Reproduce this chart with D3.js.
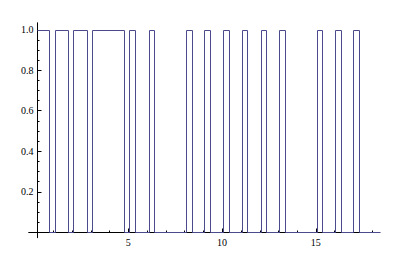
<!DOCTYPE html>
<html>
<head>
<meta charset="utf-8">
<script src="https://cdn.jsdelivr.net/npm/d3@7"></script>
<style>
  body { margin: 0; background: #fff; }
  svg { display: block; }
  .tick text { font-family: "Liberation Serif", serif; font-size: 10px; fill: #000; }
</style>
</head>
<body>
<svg width="400" height="270"></svg>
<script>
// intervals where the signal is 1 (otherwise 0)
var riseX = [0.12, 1.09, 2.07, 3.08, 5.06, 6.09, 8.06, 9.06, 10.04, 11.05, 12.06, 13.04, 15.05, 16.03, 17.0];
var fallX = [0.79, 1.80, 2.78, 4.77, 5.36, 6.39, 8.38, 9.36, 10.37, 11.35, 12.34, 13.34, 15.35, 16.33, 17.32];
var xMajor = [5, 10, 15];
var yMajor = [0.2, 0.4, 0.6, 0.8, 1.0];
var xStart = 0.12, xEnd = 18.4;

var svg = d3.select("svg");

var x = d3.scaleLinear().domain([0, 18]).range([34.5, 372]);
var y = d3.scaleLinear().domain([0, 1]).range([232, 29.5]);

// build step points from the intervals
var pts = [];
riseX.forEach(function (r, i) {
    if (i > 0) pts.push([r, 0]);
    pts.push([r, 1]);
    pts.push([fallX[i], 1]);
    pts.push([fallX[i], 0]);
});
pts.push([xEnd, 0]);

var line = d3.line()
    .x(function (d) { return Math.round(x(d[0])) + 0.5; })
    .y(function (d) { return Math.round(y(d[1])) + 0.5; });

// x axis
var gx = svg.append("g").attr("transform", "translate(0," + (Math.round(y(0)) + 0.5) + ")");
gx.append("line").attr("x1", x(-0.33)).attr("x2", x(18.43)).attr("stroke", "#000");
gx.selectAll(".minor").data(d3.range(1, 19)).enter().append("line")
    .attr("x1", function (d) { return Math.round(x(d)) + 0.5; })
    .attr("x2", function (d) { return Math.round(x(d)) + 0.5; })
    .attr("y1", 0)
    .attr("y2", function (d) { return xMajor.indexOf(d) >= 0 ? -4 : -2; })
    .attr("stroke", "#000");
gx.selectAll(".tick").data(xMajor).enter().append("g").attr("class", "tick")
    .append("text")
    .attr("x", function (d) { return x(d); })
    .attr("y", 13)
    .attr("text-anchor", "middle")
    .text(function (d) { return d; });

// y axis
var ax = Math.round(x(xStart)) + 0.5;
var gy = svg.append("g").attr("transform", "translate(" + ax + ",0)");
gy.append("line").attr("y1", y(-0.03)).attr("y2", y(1.035)).attr("stroke", "#000");
gy.selectAll(".minor").data(d3.range(1, 21).map(function (i) { return i * 0.05; })).enter().append("line")
    .attr("y1", function (d) { return Math.round(y(d)) + 0.5; })
    .attr("y2", function (d) { return Math.round(y(d)) + 0.5; })
    .attr("x1", 0)
    .attr("x2", function (d, i) { return (i + 1) % 4 === 0 ? 4 : 2; })
    .attr("stroke", "#000");
gy.selectAll(".tick").data(yMajor).enter().append("g").attr("class", "tick")
    .append("text")
    .attr("x", -4)
    .attr("y", function (d) { return y(d); })
    .attr("dy", "0.35em")
    .attr("text-anchor", "end")
    .text(function (d) { return d3.format(".1f")(d); });

// signal
svg.append("path")
    .datum(pts)
    .attr("d", line)
    .attr("fill", "none")
    .attr("stroke", "#4a4a8c")
    .attr("stroke-width", 1);
</script>
</body>
</html>
